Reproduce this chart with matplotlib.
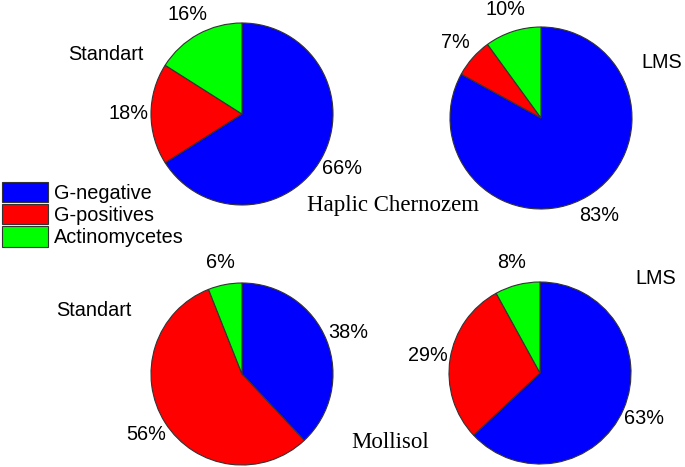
import numpy as np
import matplotlib
matplotlib.use("Agg")
import matplotlib.pyplot as plt

W, H = 685, 467
DPI = 100

labels = ["G-negative", "G-positives", "Actinomycetes"]
colors = ["#0000ff", "#ff0000", "#00ff00"]

# shares (%) : G-negative, G-positives, Actinomycetes
chernozem_std = [66, 18, 16]
chernozem_lms = [83, 7, 10]
mollisol_std = [38, 56, 6]
mollisol_lms = [63, 29, 8]

# pie centre (px from top-left) and radius
R = 91
pies = [
    (chernozem_std, (242, 114)),
    (chernozem_lms, (541, 118)),
    (mollisol_std, (242, 374)),
    (mollisol_lms, (540, 373)),
]

plt.rcParams['font.family'] = ['Liberation Sans', 'DejaVu Sans']
fig = plt.figure(figsize=(W / DPI, H / DPI), dpi=DPI)


def px(x, y):
    return x / W, 1 - y / H


wedges = None
for vals, (cx, cy) in pies:
    ax = fig.add_axes([(cx - R) / W, 1 - (cy + R) / H, 2 * R / W, 2 * R / H])
    w, t, at = ax.pie(vals, colors=colors, startangle=90, counterclock=False,
                      autopct=lambda p: "%d%%" % round(p), pctdistance=1.25,
                      wedgeprops=dict(edgecolor="#333333", linewidth=0.8),
                      textprops=dict(fontsize=14.3))
    ax.set_xlim(-1, 1)
    ax.set_ylim(-1, 1)
    if wedges is None:
        wedges = w

fig.text(*px(106, 54), "Standart", fontsize=14.3, ha="center", va="center")
fig.text(*px(662, 62), "LMS", fontsize=14.3, ha="center", va="center")
fig.text(*px(94, 310), "Standart", fontsize=14.3, ha="center", va="center")
fig.text(*px(656, 279), "LMS", fontsize=14.3, ha="center", va="center")

serif = ["Liberation Serif", "DejaVu Serif"]
fig.text(*px(393, 206), "Haplic Chernozem", fontsize=16.5, ha="center", va="center",
         family=serif)
fig.text(*px(390, 442), "Mollisol", fontsize=16.5, ha="center", va="center",
         family=serif)

fig.legend(wedges, labels, loc="upper left", bbox_to_anchor=px(2, 182),
           frameon=False, fontsize=14.3, handlelength=2.3, handleheight=1.2,
           handletextpad=0.3, labelspacing=0.06, borderpad=0, borderaxespad=0)

fig.savefig("out.png", dpi=DPI)
